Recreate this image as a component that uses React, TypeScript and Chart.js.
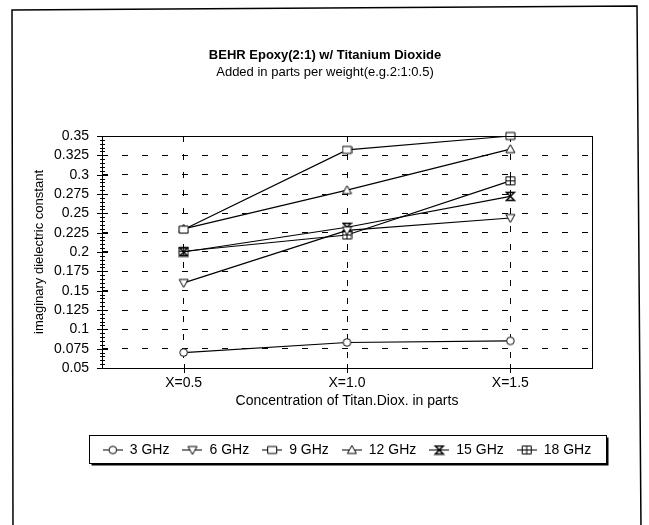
import React, { useEffect, useRef } from "react";
import { Chart, registerables } from "chart.js";

Chart.register(...registerables);

const categories = ["X=0.5", "X=1.0", "X=1.5"];
const seriesNames = ["3 GHz", "6 GHz", "9 GHz", "12 GHz", "15 GHz", "18 GHz"];
const ghz3 = [0.07, 0.083, 0.085];
const ghz6 = [0.16, 0.228, 0.244];
const ghz9 = [0.229, 0.332, 0.35];
const ghz12 = [0.23, 0.28, 0.333];
const ghz15 = [0.2, 0.232, 0.272];
const ghz18 = [0.201, 0.222, 0.292];
const markerKinds = ["circle", "triDown", "square", "triUp", "hourglass", "squarePlus"];
const yMin = 0.05;
const yMax = 0.35;
const yStep = 0.025;
const yMinorStep = 0.005;
const titleText = "BEHR Epoxy(2:1) w/ Titanium Dioxide";
const subtitleText = "Added in parts per weight(e.g.2:1:0.5)";
const xTitle = "Concentration of Titan.Diox. in parts";
const yTitle = "imaginary dielectric constant";

const FONT = "Arial, 'Liberation Sans', Helvetica, sans-serif";
const LEGEND_HALF = 258.5;

function drawMarker(ctx: CanvasRenderingContext2D, kind: string, cx: number, cy: number) {
  ctx.lineWidth = 1;
  ctx.strokeStyle = "#000";
  ctx.fillStyle = "#fff";
  ctx.beginPath();
  switch (kind) {
    case "circle":
      ctx.arc(cx, cy, 3.8, 0, Math.PI * 2);
      ctx.fill();
      ctx.stroke();
      break;
    case "triDown":
      ctx.moveTo(cx - 4.5, cy - 3.5);
      ctx.lineTo(cx + 4.5, cy - 3.5);
      ctx.lineTo(cx, cy + 4.5);
      ctx.closePath();
      ctx.fill();
      ctx.stroke();
      break;
    case "triUp":
      ctx.moveTo(cx - 4.5, cy + 3.5);
      ctx.lineTo(cx + 4.5, cy + 3.5);
      ctx.lineTo(cx, cy - 4.5);
      ctx.closePath();
      ctx.fill();
      ctx.stroke();
      break;
    case "square":
      ctx.rect(cx - 4.5, cy - 3.5, 9, 7);
      ctx.fill();
      ctx.stroke();
      break;
    case "hourglass":
      ctx.lineWidth = 1.5;
      ctx.moveTo(cx - 4, cy - 4);
      ctx.lineTo(cx + 4, cy - 4);
      ctx.lineTo(cx - 4, cy + 4);
      ctx.lineTo(cx + 4, cy + 4);
      ctx.closePath();
      ctx.stroke();
      break;
    case "squarePlus":
      ctx.rect(cx - 4.5, cy - 4, 9, 8);
      ctx.fill();
      ctx.stroke();
      ctx.beginPath();
      ctx.moveTo(cx - 4.5, cy);
      ctx.lineTo(cx + 4.5, cy);
      ctx.moveTo(cx, cy - 4);
      ctx.lineTo(cx, cy + 4);
      ctx.stroke();
      break;
  }
}

function makeMarker(kind: string, withLine: boolean): HTMLCanvasElement {
  const c = document.createElement("canvas");
  c.width = withLine ? 20 : 11;
  c.height = 11;
  const ctx = c.getContext("2d")!;
  if (withLine) {
    ctx.strokeStyle = "#000";
    ctx.lineWidth = 1;
    ctx.beginPath();
    ctx.moveTo(0, 5.5);
    ctx.lineTo(20, 5.5);
    ctx.stroke();
  }
  drawMarker(ctx, kind, c.width / 2, 5.5);
  return c;
}

export default function App() {
  const ref = useRef<HTMLCanvasElement>(null);

  useEffect(() => {
    const canvas = ref.current!;
    const pointImgs = markerKinds.map((k) => makeMarker(k, false));
    const legendImgs = markerKinds.map((k) => makeMarker(k, true));
    const seriesData = [ghz3, ghz6, ghz9, ghz12, ghz15, ghz18];

    const placementPlugin = {
      id: "placement",
      afterLayout(chart: any) {
        const a = chart.chartArea;
        const cx = (a.left + a.right) / 2;
        chart.boxes.forEach((b: any) => {
          const t = b && b.options && b.options.text;
          if (t === titleText || t === subtitleText) {
            b.left = 0;
            b.right = 650;
            b.width = 650;
          }
        });
        const lg = chart.legend;
        if (lg) {
          lg.left = cx - LEGEND_HALF;
          lg.right = cx + LEGEND_HALF;
          lg.width = LEGEND_HALF * 2;
        }
      },
    };

    const framePlugin = {
      id: "framePlugin",
      afterDraw(chart: any) {
        const { ctx, chartArea: a, scales } = chart;
        const ys = scales.y;
        const xs = scales.x;
        ctx.save();
        ctx.strokeStyle = "#000";
        ctx.lineWidth = 1;
        ctx.strokeRect(a.left + 0.5, a.top + 0.5, a.right - a.left, a.bottom - a.top);
        ctx.beginPath();
        ys.ticks.forEach((t: any) => {
          const py = Math.round(ys.getPixelForValue(t.value)) + 0.5;
          ctx.moveTo(a.left - 5, py);
          ctx.lineTo(a.left + 6, py);
        });
        const nMinor = Math.round((yMax - yMin) / yMinorStep);
        for (let i = 0; i <= nMinor; i++) {
          const py = Math.round(ys.getPixelForValue(yMin + i * yMinorStep)) + 0.5;
          ctx.moveTo(a.left - 2, py);
          ctx.lineTo(a.left + 3, py);
        }
        categories.forEach((_, i) => {
          const px = Math.round(xs.getPixelForValue(i)) + 0.5;
          ctx.moveTo(px, a.bottom - 4);
          ctx.lineTo(px, a.bottom + 5);
        });
        ctx.stroke();
        const lg = chart.legend;
        if (lg) {
          const L = Math.round(lg.left) + 0.5;
          const R = Math.round(lg.right) + 0.5;
          const T = Math.round(lg.top + 5) + 0.5;
          const B = Math.round(lg.top + 33) + 0.5;
          ctx.strokeRect(L, T, R - L, B - T);
          ctx.lineWidth = 2;
          ctx.beginPath();
          ctx.moveTo(L + 2, B + 1);
          ctx.lineTo(R + 1, B + 1);
          ctx.lineTo(R + 1, T + 2);
          ctx.stroke();
        }
        ctx.lineWidth = 1.5;
        ctx.beginPath();
        ctx.moveTo(13, 530);
        ctx.lineTo(12, 10);
        ctx.lineTo(637, 6);
        ctx.lineTo(641, 530);
        ctx.stroke();
        ctx.restore();
      },
    };

    const chart = new Chart(canvas, {
      type: "line",
      data: {
        labels: categories,
        datasets: seriesNames.map((name, i) => ({
          label: name,
          data: seriesData[i],
          borderColor: "#000",
          backgroundColor: "#fff",
          borderWidth: 1.2,
          pointStyle: pointImgs[i] as any,
          pointRadius: 5,
          tension: 0,
          clip: false as any,
        })),
      },
      options: {
        responsive: false,
        animation: false,
        devicePixelRatio: 1,
        events: [],
        layout: { padding: { left: 0, right: 57, top: 0, bottom: 58 } },
        plugins: {
          tooltip: { enabled: false },
          title: {
            display: true,
            text: titleText,
            color: "#000",
            font: { family: FONT, size: 13, weight: "bold" },
            padding: { top: 47.2, bottom: 0 },
          },
          subtitle: {
            display: true,
            text: subtitleText,
            color: "#000",
            font: { family: FONT, size: 13 },
            padding: { top: 1.9, bottom: 55.7 },
          },
          legend: {
            display: true,
            position: "bottom",
            fullSize: true,
            labels: {
              usePointStyle: true,
              pointStyleWidth: 20,
              color: "#000",
              padding: 13,
              font: { family: FONT, size: 14 },
              generateLabels: (ch: any) =>
                ch.data.datasets.map((ds: any, i: number) => ({
                  text: ds.label,
                  pointStyle: legendImgs[i],
                  fillStyle: "#fff",
                  strokeStyle: "#000",
                  lineWidth: 0,
                  hidden: false,
                  datasetIndex: i,
                  fontColor: "#000",
                })),
            },
          },
        },
        scales: {
          x: {
            type: "category",
            offset: true,
            grid: {
              display: true,
              offset: false,
              color: "#000",
              lineWidth: 1,
              drawTicks: false,
            },
            border: { display: false, dash: [6, 12] },
            ticks: { color: "#000", font: { family: FONT, size: 14 }, padding: 6.6, maxRotation: 0 },
            title: {
              display: true,
              text: xTitle,
              color: "#000",
              font: { family: FONT, size: 14 },
              padding: { top: 0, bottom: 20.9 },
            },
            afterFit: (s: any) => {
              s.height = 62;
            },
          },
          y: {
            type: "linear",
            min: yMin,
            max: yMax,
            ticks: {
              stepSize: yStep,
              maxTicksLimit: 14,
              autoSkip: false,
              color: "#000",
              font: { family: FONT, size: 14 },
              padding: 13,
              callback: (v: any) => String(Number(Number(v).toFixed(3))),
            },
            grid: {
              display: true,
              color: "#000",
              lineWidth: 1,
              drawTicks: false,
            },
            border: { display: false, dash: [6, 14] },
            title: {
              display: true,
              text: yTitle,
              color: "#000",
              font: { family: FONT, size: 13 },
              padding: { top: 32, bottom: 0 },
            },
            afterFit: (s: any) => {
              s.width = 102;
            },
          },
        },
      },
      plugins: [placementPlugin, framePlugin],
    } as any);

    return () => chart.destroy();
  }, []);

  return (
    <div style={{ position: "absolute", left: 0, top: 0, width: 649, height: 525, background: "#fff" }}>
      <canvas ref={ref} width={649} height={525} style={{ display: "block", width: 649, height: 525 }} />
    </div>
  );
}
